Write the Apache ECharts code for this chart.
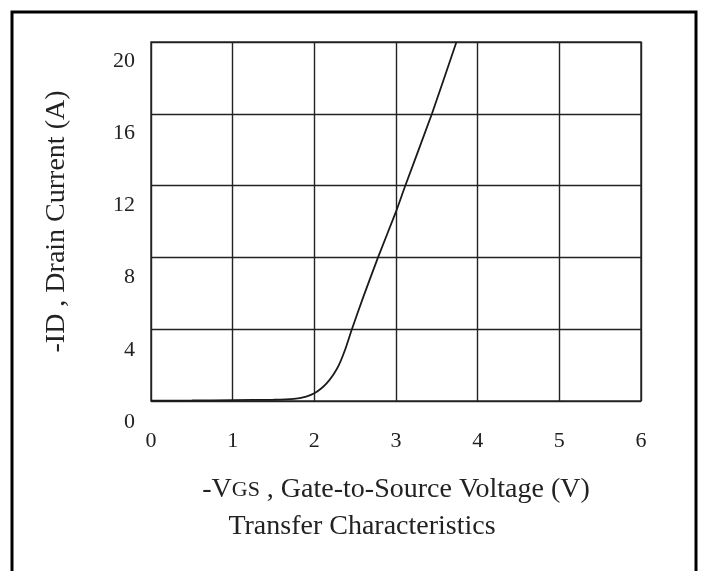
<!DOCTYPE html>
<html>
<head>
<meta charset="utf-8">
<script src="https://cdn.jsdelivr.net/npm/echarts@6/dist/echarts.min.js"></script>
<style>html,body{margin:0;padding:0;background:#fff;}#c{width:701px;height:571px;}</style>
</head>
<body>
<div id="c"></div>
<script>
// Data (-VGS in V, -ID in A)
const vgs = [0, 0.5, 1.0, 1.5, 1.75, 1.9, 2.0, 2.08, 2.15, 2.23, 2.3, 2.38, 2.46, 2.6, 2.78, 3.0, 3.11, 3.44, 3.74];
const idrain = [0.02, 0.03, 0.05, 0.07, 0.12, 0.25, 0.43, 0.68, 0.98, 1.45, 2.0, 2.9, 4.0, 5.8, 8.0, 10.55, 11.95, 16.0, 20.0];
const xTicks = [0, 1, 2, 3, 4, 5, 6];
const yTicks = [0, 4, 8, 12, 16, 20];

const FONT = '"Liberation Serif", "DejaVu Serif", serif';
const chart = echarts.init(document.getElementById('c'));
chart.setOption({
  animation: false,
  backgroundColor: '#fff',
  grid: [
    {left: 151, right: 60, top: 42, bottom: 170, show: true, borderColor: '#333', borderWidth: 1.5},
    {left: 151, right: 60, top: 61, bottom: 149, show: false}
  ],
  xAxis: [
    {
      type: 'value', gridIndex: 0,
      min: xTicks[0], max: xTicks[xTicks.length - 1], interval: 1,
      axisLine: {show: false}, axisTick: {show: false},
      splitLine: {show: true, lineStyle: {color: '#222', width: 1.4}},
      axisLabel: {fontFamily: FONT, fontSize: 22, color: '#222', margin: 29},
      name: '-V{s|GS} , Gate-to-Source Voltage (V)',
      nameLocation: 'middle', nameGap: 75,
      nameTextStyle: {fontFamily: FONT, fontSize: 28, color: '#222',
        rich: {s: {fontFamily: FONT, fontSize: 22, color: '#222'}}}
    },
    {type: 'value', gridIndex: 1, min: 0, max: 6, show: false}
  ],
  yAxis: [
    {
      type: 'value', gridIndex: 0,
      min: yTicks[0], max: yTicks[yTicks.length - 1], interval: 4,
      axisLine: {show: false}, axisTick: {show: false},
      axisLabel: {show: false},
      splitLine: {show: true, lineStyle: {color: '#222', width: 1.4}},
      name: '-ID , Drain Current (A)',
      nameLocation: 'middle', nameGap: 80, nameRotate: 90,
      nameTextStyle: {fontFamily: FONT, fontSize: 28, color: '#222'}
    },
    {
      type: 'value', gridIndex: 1,
      min: yTicks[0], max: yTicks[yTicks.length - 1], interval: 4,
      axisLine: {show: false}, axisTick: {show: false}, splitLine: {show: false},
      axisLabel: {fontFamily: FONT, fontSize: 22, color: '#222', margin: 16}
    }
  ],
  series: [{
    type: 'line', xAxisIndex: 0, yAxisIndex: 0,
    data: vgs.map((v, i) => [v, idrain[i]]),
    smooth: 0.2,
    showSymbol: false,
    lineStyle: {color: '#1a1a1a', width: 1.8}
  }],
  graphic: [
    {type: 'rect', shape: {x: 12, y: 12, width: 684, height: 700},
     style: {fill: 'none', stroke: '#000', lineWidth: 3}, silent: true},
    {type: 'text', style: {x: 362, y: 527, text: 'Transfer Characteristics',
     font: '28px ' + FONT, fill: '#222', textAlign: 'center', textVerticalAlign: 'middle'}}
  ]
});
</script>
</body>
</html>
